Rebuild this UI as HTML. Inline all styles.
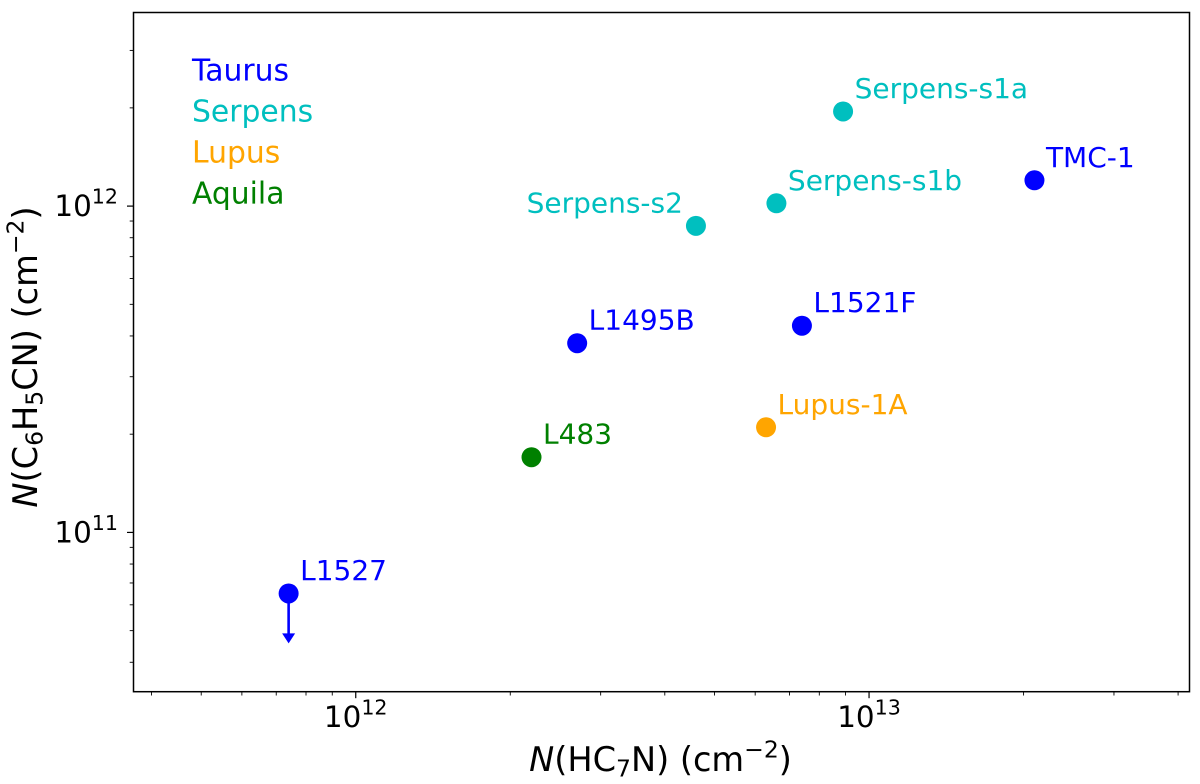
<!DOCTYPE html>
<html>
<head>
<meta charset="utf-8">
<style>
html,body{margin:0;padding:0;background:#fff;width:1200px;height:784px;overflow:hidden}
svg{display:block}
text{font-family:"DejaVu Sans","Liberation Sans",sans-serif}
</style>
</head>
<body>
<svg id="chart" xmlns="http://www.w3.org/2000/svg" width="1200" height="784" viewBox="0 0 1200 784">
  <rect x="0" y="0" width="1200" height="784" fill="#ffffff"/>
  <g id="ticks"></g>
  <g id="marks"></g>
  <g id="legend"></g>
  <rect x="133.5" y="12.5" width="1056" height="679.2" fill="none" stroke="#000" stroke-width="1.5"/>
  <text x="660.5" y="771" text-anchor="middle" font-size="33.6" fill="#000"><tspan font-style="italic">N</tspan>(HC<tspan font-size="23.5" dy="5.5">7</tspan><tspan dy="-5.5">N) (cm</tspan><tspan font-size="23.5" dy="-13.5">−2</tspan><tspan dy="13.5">)</tspan></text>
  <text transform="translate(37,357) rotate(-90)" x="0" y="0" text-anchor="middle" font-size="33.6" fill="#000"><tspan font-style="italic">N</tspan>(C<tspan font-size="23.5" dy="5.5">6</tspan><tspan dy="-5.5">H</tspan><tspan font-size="23.5" dy="5.5">5</tspan><tspan dy="-5.5">CN) (cm</tspan><tspan font-size="23.5" dy="-13.5">−2</tspan><tspan dy="13.5">)</tspan></text>
</svg>
<script>
// Data
const sourceNames = ["L1527", "L483", "L1495B", "Lupus-1A", "L1521F", "TMC-1", "Serpens-s1a", "Serpens-s1b", "Serpens-s2"];
const hc7nColumn = [7.4e11, 2.2e12, 2.7e12, 6.3e12, 7.4e12, 2.1e13, 8.9e12, 6.6e12, 4.6e12];
const c6h5cnColumn = [6.5e10, 1.7e11, 3.8e11, 2.1e11, 4.3e11, 1.2e12, 1.95e12, 1.02e12, 8.7e11];
const sourceRegions = ["Taurus", "Aquila", "Taurus", "Lupus", "Taurus", "Taurus", "Serpens", "Serpens", "Serpens"];
const labelSides = ["right", "right", "right", "right", "right", "right", "right", "right", "left"];
const upperLimitSources = ["L1527"];
const upperLimitArrowEnds = [4.57e10];
const regionNames = ["Taurus", "Serpens", "Lupus", "Aquila"];
const regionColors = ["#0000ff", "#00bfbf", "#ffa500", "#008000"];
const xMajorExponents = [12, 13];
const yMajorExponents = [11, 12];
const xMinorTicks = [4e11, 5e11, 6e11, 7e11, 8e11, 9e11, 2e12, 3e12, 4e12, 5e12, 6e12, 7e12, 8e12, 9e12, 2e13, 3e13, 4e13];
const yMinorTicks = [4e10, 5e10, 6e10, 7e10, 8e10, 9e10, 2e11, 3e11, 4e11, 5e11, 6e11, 7e11, 8e11, 9e11, 2e12, 3e12];
const xLimits = [3.69e11, 4.21e13];
const yLimits = [3.25e10, 3.92e12];

// Axis functions
const plotLeft = 133.5, plotRight = 1189.5, plotTop = 12.5, plotBottom = 691.7;
function xScale(v) {
  const a = Math.log10(xLimits[0]), b = Math.log10(xLimits[1]);
  return plotLeft + (Math.log10(v) - a) / (b - a) * (plotRight - plotLeft);
}
function yScale(v) {
  const a = Math.log10(yLimits[0]), b = Math.log10(yLimits[1]);
  return plotBottom - (Math.log10(v) - a) / (b - a) * (plotBottom - plotTop);
}
const NS = "http://www.w3.org/2000/svg";
function svgEl(tag, attrs, parent) {
  const el = document.createElementNS(NS, tag);
  for (const k in attrs) el.setAttribute(k, attrs[k]);
  parent.appendChild(el);
  return el;
}
function colorOf(region) {
  return regionColors[regionNames.indexOf(region)];
}

const ticksG = document.getElementById("ticks");
const marksG = document.getElementById("marks");
const legendG = document.getElementById("legend");

function powerLabel(x, y, anchor, exponent, parent) {
  const t = svgEl("text", {x: x, y: y, "text-anchor": anchor, "font-size": 29.4, fill: "#000"}, parent);
  
  
  const base = svgEl("tspan", {}, t);
  base.textContent = "10";
  const sup = svgEl("tspan", {"font-size": 20.6, dy: -12.5}, t);
  sup.textContent = String(exponent);
}

xMajorExponents.forEach(function (e) {
  const x = xScale(Math.pow(10, e));
  const line = svgEl("line", {x1: x, x2: x, y1: plotBottom, y2: plotBottom + 6.5, stroke: "#000", "stroke-width": 1.2}, ticksG);
  
  
  powerLabel(x, 727, "middle", e, ticksG);
});
yMajorExponents.forEach(function (e) {
  const y = yScale(Math.pow(10, e));
  const line = svgEl("line", {x1: plotLeft, x2: plotLeft - 6.5, y1: y, y2: y, stroke: "#000", "stroke-width": 1.2}, ticksG);
  
  
  powerLabel(118, y + 10, "end", e, ticksG);
});
xMinorTicks.forEach(function (v) {
  const x = xScale(v);
  const line = svgEl("line", {x1: x, x2: x, y1: plotBottom, y2: plotBottom + 3.8, stroke: "#000", "stroke-width": 0.9}, ticksG);
  
  
});
yMinorTicks.forEach(function (v) {
  const y = yScale(v);
  const line = svgEl("line", {x1: plotLeft, x2: plotLeft - 3.8, y1: y, y2: y, stroke: "#000", "stroke-width": 0.9}, ticksG);
  
  
});

// Upper-limit arrows
upperLimitSources.forEach(function (name, i) {
  const idx = sourceNames.indexOf(name);
  const color = colorOf(sourceRegions[idx]);
  const x = xScale(hc7nColumn[idx]);
  const y0 = yScale(c6h5cnColumn[idx]);
  const y1 = yScale(upperLimitArrowEnds[i]);
  const shaft = svgEl("line", {x1: x, x2: x, y1: y0, y2: y1 - 6, stroke: color, "stroke-width": 2.6}, marksG);
  
  
  const head = svgEl("polygon", {points: (x - 6.5) + "," + (y1 - 10) + " " + (x + 6.5) + "," + (y1 - 10) + " " + x + "," + y1, fill: color}, marksG);
  
  
});

// Points and labels
sourceNames.forEach(function (name, i) {
  const color = colorOf(sourceRegions[i]);
  const x = xScale(hc7nColumn[i]);
  const y = yScale(c6h5cnColumn[i]);
  const dot = svgEl("circle", {cx: x, cy: y, r: 10, fill: color}, marksG);
  
  
  const left = labelSides[i] === "left";
  const label = svgEl("text", {x: left ? x - 13 : x + 11.5, y: y - 13.5, "text-anchor": left ? "end" : "start", "font-size": 28, fill: color}, marksG);
  
  
  label.textContent = name;
});

// Legend
regionNames.forEach(function (name, i) {
  const t = svgEl("text", {x: 192, y: 80.5 + i * 41, "font-size": 29.8, fill: regionColors[i]}, legendG);
  
  
  t.textContent = name;
});
</script>
</body>
</html>
